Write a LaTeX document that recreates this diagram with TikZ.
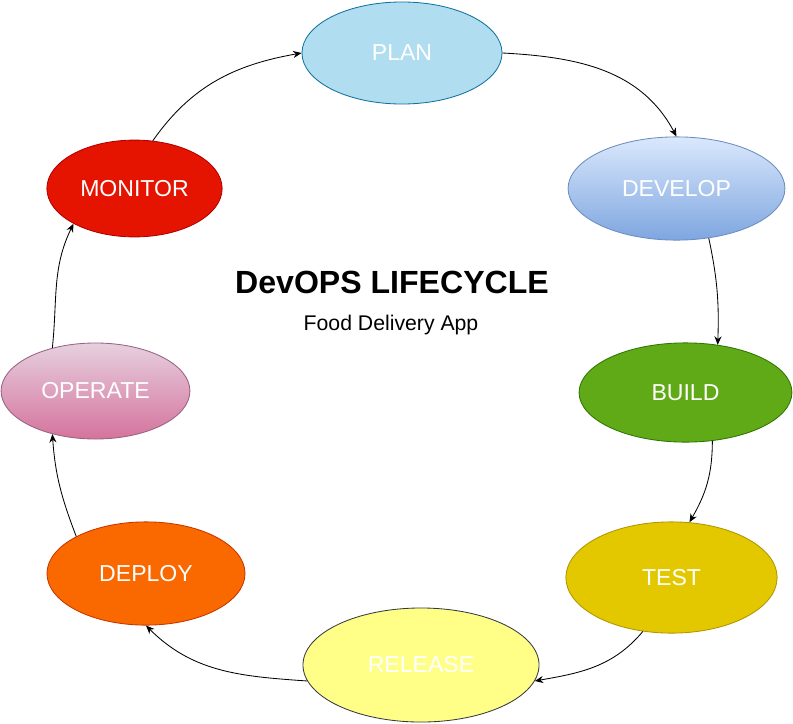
\documentclass[tikz,border=0pt]{standalone}
\usepackage{fontspec}
\setmainfont{Liberation Sans}
\usepackage{tikz}
\usetikzlibrary{arrows.meta,shapes.geometric,positioning}

\definecolor{planfill}{HTML}{B1DDF0}
\definecolor{planline}{HTML}{10739E}
\definecolor{devtop}{HTML}{DAE8FC}
\definecolor{devbot}{HTML}{7EA6E0}
\definecolor{devline}{HTML}{6C8EBF}
\definecolor{buildfill}{HTML}{60A917}
\definecolor{buildline}{HTML}{2D7600}
\definecolor{testfill}{HTML}{E3C800}
\definecolor{testline}{HTML}{B09500}
\definecolor{relfill}{HTML}{FFFF88}
\definecolor{relline}{HTML}{36393D}
\definecolor{depfill}{HTML}{FA6800}
\definecolor{depline}{HTML}{C73500}
\definecolor{optop}{HTML}{E6D0DE}
\definecolor{opbot}{HTML}{D5739D}
\definecolor{opline}{HTML}{996185}
\definecolor{monfill}{HTML}{E51400}
\definecolor{monline}{HTML}{B20000}

\tikzset{
  stage/.style={ellipse, draw, line width=0.6pt, inner sep=0pt, text=white,
    font=\fontsize{16.4}{18}\selectfont},
  cyc/.style={-{Stealth[length=6pt,width=5pt]}, line width=0.6pt, black}
}

\begin{document}
\begin{tikzpicture}[x=0.025cm,y=-0.025cm]
\useasboundingbox (0,0) rectangle (793,723);
% Stages of the cycle
\node[stage, fill=planfill, draw=planline, minimum width=5cm, minimum height=2.55cm] (plan) at (402,53) {PLAN};
\node[stage, top color=devtop, bottom color=devbot, draw=devline, minimum width=5.42cm, minimum height=2.58cm] (develop) at (676.5,188.5) {DEVELOP};
\node[stage, fill=buildfill, draw=buildline, minimum width=5.32cm, minimum height=2.48cm] (build) at (685.5,392.5) {BUILD};
\node[stage, fill=testfill, draw=testline, minimum width=5.28cm, minimum height=2.78cm] (test) at (671.5,577.5) {TEST};
\node[stage, fill=relfill, draw=relline, minimum width=5.9cm, minimum height=2.85cm] (release) at (421,665) {RELEASE};
\node[stage, fill=depfill, draw=depline, minimum width=4.95cm, minimum height=2.58cm] (deploy) at (146,573.5) {DEPLOY};
\node[stage, top color=optop, bottom color=opbot, draw=opline, minimum width=4.72cm, minimum height=2.4cm] (operate) at (95.5,391) {OPERATE};
\node[stage, fill=monfill, draw=monline, minimum width=4.38cm, minimum height=2.42cm] (monitor) at (134.5,188.5) {MONITOR};

% Cycle arrows
\foreach \a/\b/\o/\i in {monitor.69/plan.west/55/190,
                         plan.east/develop.north/-3/118,
                         develop.-57/build.56/-78/88,
                         build.-61/test.72/-90/60,
                         test.-118/release.-8/-130/10,
                         release.188/deploy.south/176/-45,
                         deploy.152/operate.225/111/-86,
                         operate.135/monitor.210/84/244}
  \draw[cyc] (\a) to[out=\o,in=\i] (\b);

% Title
\node[font=\fontsize{22.8}{26}\selectfont\bfseries] (title) at (392,282) {DevOPS LIFECYCLE};
\node[font=\fontsize{15.1}{18}\selectfont] (sub) at (391,325) {Food Delivery App};
\end{tikzpicture}
\end{document}
